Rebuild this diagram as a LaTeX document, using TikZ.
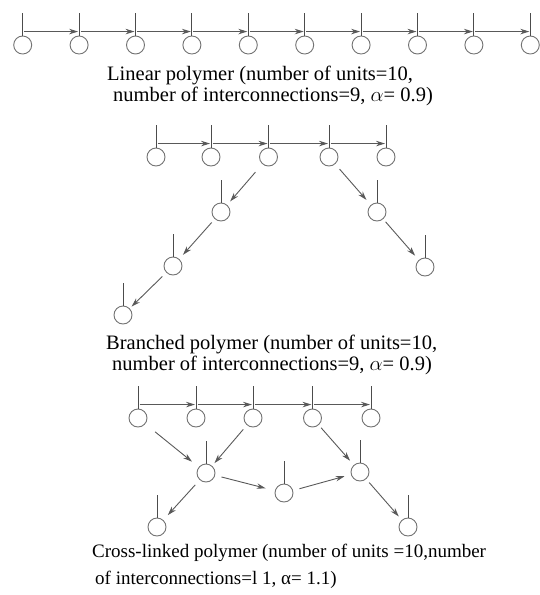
\documentclass[tikz,border=0pt]{standalone}
\usepackage{fontspec}
\setmainfont{Liberation Serif}
\usetikzlibrary{calc,arrows.meta}

\tikzset{
  unit/.style={circle, draw=black!55, line width=0.9pt, minimum size=18pt, inner sep=0pt},
  stem/.style={draw=black!70, line width=0.9pt},
  link/.style={draw=black!65, line width=0.9pt, -{Stealth[length=9pt,width=5.5pt]}},
  caption/.style={anchor=base west, align=left, inner sep=0pt},
}

% one unit: circle with its stem, name / x / y
\newcommand{\unitat}[3]{%
  \node[unit] (#1) at (#2,#3) {};
  \draw[stem] (#1.north) -- ++(0,-23) coordinate (#1-top);
  \coordinate (#1-s) at ($(#1.north)+(0,-4)$);
}

\begin{document}
\begin{tikzpicture}[x=1pt,y=-1pt]

    \useasboundingbox (0,0) rectangle (540,595);

    % linear polymer
    \foreach \i in {1,...,10}{
      \pgfmathsetmacro{\xx}{22.7+56.4*(\i-1)}
      \unitat{lin\i}{\xx}{45}
    }
    \foreach \i [evaluate=\i as \j using int(\i+1)] in {1,...,9}
    \draw[link] ([xshift=1.5pt]lin\i-s) -- ([xshift=-1pt]lin\j-s);

    % anchor is the baseline of the last line
    \node[caption, font=\fontsize{20.5}{21}\selectfont] (lin cap) at (107,101)
      {Linear polymer (number of units=10,\\\hspace{6pt}number of interconnections=9, $\alpha$= 0.9)};

    % branched polymer
    \unitat{br1}{156}{157}
    \unitat{br2}{211}{157}
    \unitat{br3}{268.5}{157}
    \unitat{br4}{329}{157}
    \unitat{br5}{386}{157}
    \unitat{brl1}{221}{212}
    \unitat{brl2}{173}{266}
    \unitat{brl3}{123}{315}
    \unitat{brr1}{377}{212}
    \unitat{brr2}{425}{267}

    \foreach \a/\b in {br1/br2,br2/br3,br3/br4,br4/br5}
    \draw[link] ([xshift=1.5pt]\a-s) -- ([xshift=-1pt]\b-s);

    \draw[link] ($(br3)!20pt!(brl1)$) -- ($(brl1)!14pt!(br3)$);
    \draw[link] ($(brl1)!14pt!(brl2)$) -- ($(brl2)!15pt!(brl1)$);
    \draw[link] ($(brl2)!15pt!(brl3)$) -- ($(brl3)!12pt!(brl2)$);
    \draw[link] ($(br4)!16pt!(brr1)$) -- ($(brr1)!16pt!(br4)$);
    \draw[link] ($(brr1)!13pt!(brr2)$) -- ($(brr2)!15pt!(brr1)$);

    \node[caption, font=\fontsize{20.5}{21}\selectfont] (br cap) at (106,370)
      {Branched polymer (number of units=10,\\\hspace{6pt}number of interconnections=9, $\alpha$= 0.9)};

    % cross-linked polymer
    \unitat{cr1}{138}{418}
    \unitat{cr2}{196}{418}
    \unitat{cr3}{253}{418}
    \unitat{cr4}{312.5}{418}
    \unitat{cr5}{371}{418}
    \unitat{crm1}{206}{473}
    \unitat{crm2}{284}{493}
    \unitat{crm3}{360}{472}
    \unitat{crl}{157}{527}
    \unitat{crr}{408}{527}

    \foreach \a/\b in {cr1/cr2,cr2/cr3,cr3/cr4,cr4/cr5}
    \draw[link] ([xshift=1.5pt]\a-s) -- ([xshift=-1pt]\b-s);

    \draw[link] ($(cr1)!22pt!(crm1)$) -- ($(crm1)!18pt!(cr1)$);
    \draw[link] ($(cr3)!15pt!(crm1)$) -- ($(crm1)!13pt!(cr3)$);
    \draw[link] ($(cr4)!13pt!(crm3)$) -- ($(crm3)!15pt!(cr4)$);
    \draw[link] ($(crm1)!16pt!(crm2)$) -- ($(crm2)!19pt!(crm1)$);
    \draw[link] ($(crm2)!16pt!(crm3)$) -- ($(crm3)!16pt!(crm2)$);
    \draw[link] ($(crm1)!16pt!(crl)$) -- ($(crl)!16pt!(crm1)$);
    \draw[link] ($(crm3)!14pt!(crr)$) -- ($(crr)!14pt!(crm3)$);

    \node[caption, font=\fontsize{19}{27}\selectfont] (cr cap) at (92,584)
      {Cross-linked polymer (number of units =10,number\\\hspace{3pt}of interconnections=l 1, α= 1.1)};

\end{tikzpicture}
\end{document}
